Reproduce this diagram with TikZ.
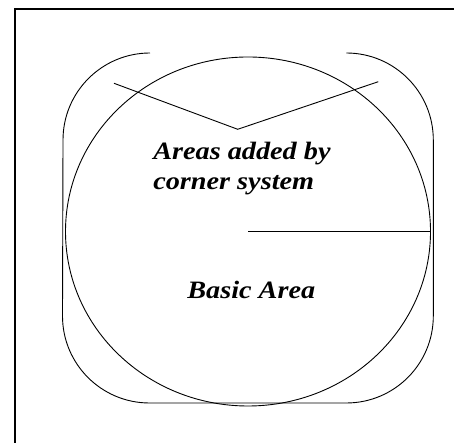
\documentclass[tikz,border=0pt]{standalone}
\usepackage{fontspec}
\setmainfont{Liberation Serif}
\newfontfamily\capfont[FakeStretch=1.13]{Liberation Serif}
\begin{document}
\begin{tikzpicture}[x=1pt,y=1pt,
  thin line/.style={line width=0.9pt,black},
  frame line/.style={line width=2pt,black},
  caption/.style={anchor=base west,inner sep=0pt,outer sep=0pt,
    font=\capfont\fontsize{25}{29}\selectfont\bfseries\itshape}]
\useasboundingbox (0,0) rectangle (454,443);
\clip (0,0) rectangle (454,443);
% page frame (top and left edges)
\draw[frame line] (15,-5) -- (15,433.7) -- (460,433.7);
% basic area
\draw[thin line] (248,211.5) ellipse [x radius=182.5, y radius=174.5];
\coordinate (centre) at (248,211.3);
\coordinate (rim) at (430.5,211.3);
\draw[line width=1.5pt] (centre) -- (rim);
% areas added by the corner system
\draw[thin line] (150,390) arc[start angle=90,end angle=180,radius=87]
  -- (62.5,127) arc[start angle=180,end angle=270,radius=87]
  -- (346.3,40) arc[start angle=270,end angle=360,radius=87]
  -- (433.3,303) arc[start angle=0,end angle=90,radius=87];
\coordinate (vl) at (114,359.7);
\coordinate (vm) at (237.7,313.7);
\coordinate (vr) at (378.3,361.3);
\draw[thin line] (vl) -- (vm) -- (vr);
% labels
\node[caption] (added1) at (153.3,283) {Areas added by};
\node[caption] (added2) at (153.3,253) {corner system};
\node[caption] (basic) at (187.3,144.7) {Basic Area};
\end{tikzpicture}
\end{document}
